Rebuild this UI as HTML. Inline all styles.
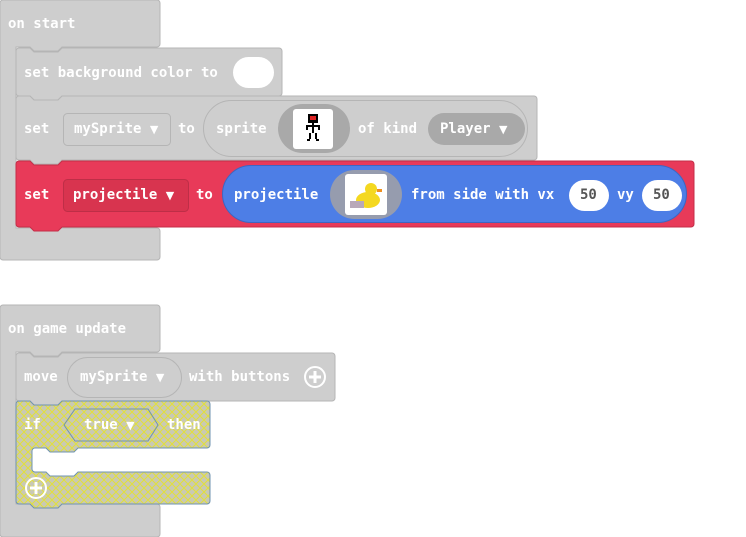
<!DOCTYPE html>
<html><head><meta charset="utf-8"><style>
html,body{margin:0;padding:0;background:#fff;width:746px;height:537px;overflow:hidden}
svg text{font-family:"DejaVu Sans Mono","Liberation Mono",monospace;font-weight:bold;font-size:14px;fill:#fff}
svg tspan.a{font-family:"DejaVu Sans",sans-serif;font-size:11px}
</style></head><body>
<svg width="746" height="537" viewBox="0 0 746 537" xmlns="http://www.w3.org/2000/svg">
<defs>
<pattern id="h" width="8" height="8" patternUnits="userSpaceOnUse">
<rect width="8" height="8" fill="#c9c9b4"/>
<path d="M0 0L8 8M8 0L0 8" stroke="#e2e03a" stroke-width="1"/>
</pattern>
</defs>
<path d="M3 0H157a3 3 0 0 1 3 3V44a3 3 0 0 1-3 3H62l-4 4H34l-4-4H16V228H157a3 3 0 0 1 3 3V257a3 3 0 0 1-3 3H3a3 3 0 0 1-3-3V3a3 3 0 0 1 3-3z" fill="#cecece" stroke="#b5b5b5"/>
<text x="8" y="28">on start</text>
<path d="M19 48H30l4 4H58l4-4H279a3 3 0 0 1 3 3V93a3 3 0 0 1-3 3H62l-4 4H34l-4-4H19a3 3 0 0 1-3-3V51a3 3 0 0 1 3-3z" fill="#cecece" stroke="#b5b5b5"/>
<text x="24" y="77">set background color to</text>
<rect x="233" y="57" width="41" height="31" rx="15.5" fill="#fff"/>
<path d="M19 96H30l4 4H58l4-4H534a3 3 0 0 1 3 3V157a3 3 0 0 1-3 3H62l-4 4H34l-4-4H19a3 3 0 0 1-3-3V99a3 3 0 0 1 3-3z" fill="#cecece" stroke="#b5b5b5"/>
<text x="24" y="133">set</text>
<rect x="63.5" y="113.5" width="107" height="32" rx="4" fill="#cecece" stroke="#b5b5b5"/>
<text x="74" y="133">mySprite <tspan class="a">▼</tspan></text>
<text x="178" y="133">to</text>
<rect x="203.5" y="100.5" width="324" height="56" rx="28" fill="#cecece" stroke="#b5b5b5"/>
<text x="216" y="133">sprite</text>
<rect x="278" y="104" width="72" height="49" rx="24.5" fill="#a9a9a9"/>
<rect x="293" y="109" width="40" height="40" rx="3" fill="#fff"/>
<g fill="#000"><rect x="308" y="114" width="10" height="9"/><rect x="310" y="116" width="6" height="4" fill="#d22"/><rect x="312" y="123" width="2" height="10"/><rect x="306" y="125" width="14" height="2"/><rect x="306" y="125" width="2" height="5"/><rect x="318" y="125" width="2" height="5"/><rect x="309" y="133" width="2" height="6"/><rect x="315" y="133" width="2" height="6"/><rect x="307" y="139" width="3" height="2"/><rect x="316" y="139" width="3" height="2"/></g>
<text x="358" y="133">of kind</text>
<rect x="428" y="113" width="97" height="32" rx="16" fill="#a9a9a9"/>
<text x="440" y="133">Player <tspan class="a">▼</tspan></text>
<path d="M19 161H30l4 4H58l4-4H691a3 3 0 0 1 3 3V224a3 3 0 0 1-3 3H62l-4 4H34l-4-4H19a3 3 0 0 1-3-3V164a3 3 0 0 1 3-3z" fill="#e83a59" stroke="#c42e48"/>
<text x="24" y="199">set</text>
<rect x="63.5" y="179.5" width="125" height="32" rx="4" fill="#d8344f" stroke="#be2e47"/>
<text x="73" y="199">projectile <tspan class="a">▼</tspan></text>
<text x="196" y="199">to</text>
<rect x="222.5" y="165.5" width="464" height="57" rx="28.5" fill="#4d7ee6" stroke="#3d66c2"/>
<text x="234" y="199">projectile</text>
<rect x="330" y="170" width="72" height="49" rx="24.5" fill="#969cae"/>
<rect x="345" y="174" width="42" height="41" rx="3" fill="#fff"/>
<ellipse cx="368" cy="200" rx="12" ry="8" fill="#f4d820"/><circle cx="371" cy="189" r="6" fill="#f4d820"/><rect x="377" y="189" width="5" height="3" fill="#f09020"/><rect x="350" y="201" width="14" height="7" fill="#b8a8b8"/>
<text x="411" y="199">from side with vx</text>
<rect x="569" y="180" width="40" height="31" rx="15.5" fill="#fff"/>
<text x="580" y="199" style="fill:#555">50</text>
<text x="617" y="199">vy</text>
<rect x="642" y="180" width="40" height="31" rx="15.5" fill="#fff"/>
<text x="653" y="199" style="fill:#555">50</text>
<path d="M3 305H157a3 3 0 0 1 3 3V349a3 3 0 0 1-3 3H62l-4 4H34l-4-4H16V504H157a3 3 0 0 1 3 3V534a3 3 0 0 1-3 3H3a3 3 0 0 1-3-3V308a3 3 0 0 1 3-3z" fill="#cecece" stroke="#b5b5b5"/>
<text x="8" y="333">on game update</text>
<path d="M19 353H30l4 4H58l4-4H332a3 3 0 0 1 3 3V398a3 3 0 0 1-3 3H62l-4 4H34l-4-4H19a3 3 0 0 1-3-3V356a3 3 0 0 1 3-3z" fill="#cecece" stroke="#b5b5b5"/>
<text x="24" y="381">move</text>
<rect x="67.5" y="357.5" width="114" height="40" rx="20" fill="#cecece" stroke="#b5b5b5"/>
<text x="80" y="381">mySprite <tspan class="a">▼</tspan></text>
<text x="189" y="381">with buttons</text>
<circle cx="315" cy="377" r="10" fill="none" stroke="#fff" stroke-width="2"/><path d="M309 377h12M315 371v12" stroke="#fff" stroke-width="3"/>
<path d="M19 401H30l4 4H58l4-4H207a3 3 0 0 1 3 3V445a3 3 0 0 1-3 3H78l-4 4H50l-4-4H35a3 3 0 0 0-3 3V469a3 3 0 0 0 3 3H46l4 4H74l4-4H207a3 3 0 0 1 3 3V501a3 3 0 0 1-3 3H62l-4 4H34l-4-4H19a3 3 0 0 1-3-3V404a3 3 0 0 1 3-3z" fill="url(#h)" stroke="#6f93b0"/>
<text x="24" y="429">if</text>
<path d="M64 425L75 409H148L158 425L148 441H75z" fill="url(#h)" stroke="#6f93b0"/>
<text x="84" y="429">true <tspan class="a">▼</tspan></text>
<text x="167" y="429">then</text>
<circle cx="36" cy="488" r="10" fill="none" stroke="#fff" stroke-width="2"/><path d="M30 488h12M36 482v12" stroke="#fff" stroke-width="3"/>
</svg>
</body></html>
